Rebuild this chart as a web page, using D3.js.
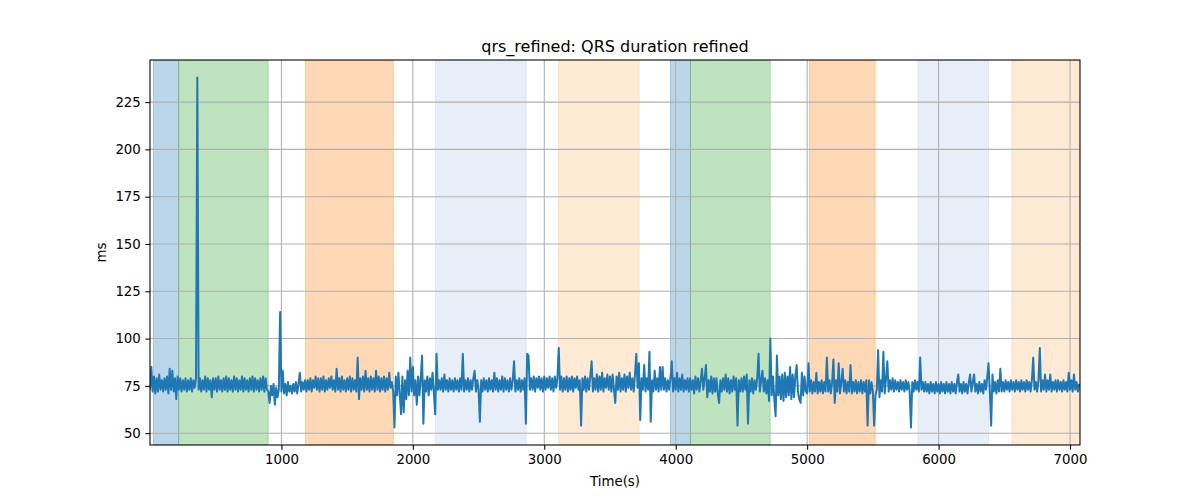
<!DOCTYPE html>
<html>
<head>
<meta charset="utf-8">
<script src="https://cdn.jsdelivr.net/npm/d3@7/dist/d3.min.js"></script>
<style>
  body { margin: 0; background: #fff; }
  svg { display: block; font-family: "DejaVu Sans", sans-serif; }
</style>
</head>
<body>
<svg id="chart" width="1200" height="500"></svg>
<script>
// ---- data ----
const title = "qrs_refined: QRS duration refined";
const xLabel = "Time(s)";
const yLabel = "ms";
const sampleStep = 10; // seconds between samples
const xLimits = [0, 7076];
const xTicks = [1000, 2000, 3000, 4000, 5000, 6000, 7000];
const yTicks = [50, 75, 100, 125, 150, 175, 200, 225];

// shaded intervals [start, end] in seconds, with their colours
const spanStarts = [26, 218, 1183, 2172, 3108, 3960, 4112, 5018, 5843, 6558];
const spanEnds   = [218, 899, 1852, 2862, 3722, 4112, 4719, 5518, 6380, 7076];
const spanColors = ["#1f77b4", "#2ca02c", "#ff7f0e", "#aec7e8", "#ffbb78",
                    "#1f77b4", "#2ca02c", "#ff7f0e", "#aec7e8", "#ffbb78"];

// QRS duration (ms), one value every 10 s
const qrsValues = [
  73,85,72,80,71,79,72,81,73,78,
  72,79,73,80,71,84,73,83,72,79,
  68,80,73,79,72,78,73,79,72,78,
  73,79,72,78,74,79,238,73,79,72,
  78,73,80,72,79,73,78,69,79,73,
  79,72,80,73,78,72,79,73,80,72,
  79,73,78,72,80,73,79,72,78,73,
  80,72,79,73,78,72,79,73,80,72,
  79,73,78,72,79,73,80,72,79,73,
  72,66,75,70,76,65,74,69,73,114,
  72,83,71,76,70,77,72,75,71,76,
  72,77,71,76,82,72,77,73,78,72,
  78,73,79,72,78,74,80,73,79,72,
  79,73,80,72,78,73,79,74,80,73,
  78,72,84,73,79,72,80,73,78,72,
  79,73,80,72,79,73,78,72,90,68,
  79,73,80,72,83,73,79,72,80,73,
  79,72,83,73,80,72,79,73,80,72,
  79,73,82,74,77,72,53,80,70,82,
  71,60,80,61,78,68,83,70,90,72,
  85,70,78,65,80,70,79,91,55,78,
  72,80,70,79,73,82,71,60,92,73,
  78,73,79,72,81,73,78,72,79,73,
  78,72,79,73,78,72,79,73,92,72,
  78,73,79,72,78,73,79,83,72,78,
  73,56,78,72,79,73,78,72,79,73,
  78,72,82,73,79,72,78,73,80,72,
  79,73,78,72,79,73,78,88,72,78,
  73,79,72,78,73,79,55,92,91,73,
  79,73,80,72,79,74,80,73,79,72,
  80,73,79,74,80,73,79,72,80,74,
  79,95,73,80,72,79,73,80,72,79,
  73,80,72,79,74,80,73,78,54,79,
  73,80,72,79,73,80,88,72,79,73,
  81,72,80,73,82,72,79,74,81,73,
  80,72,81,73,66,80,73,82,72,79,
  73,81,72,80,74,82,73,79,72,81,
  92,74,87,57,79,73,86,72,79,73,
  93,56,78,72,83,73,79,72,85,73,
  85,73,79,72,78,73,79,88,72,79,
  73,82,72,79,73,81,72,78,73,79,
  72,79,73,78,71,80,73,79,72,78,
  84,73,79,86,69,78,72,80,71,79,
  72,79,71,66,78,72,79,73,81,72,
  79,71,78,72,80,73,79,54,78,72,
  79,72,80,73,81,55,78,72,79,71,
  78,73,79,92,72,78,83,72,79,71,
  78,67,100,70,80,68,59,91,70,80,
  68,81,67,82,69,80,70,85,68,81,
  69,80,86,72,68,66,82,70,80,72,
  71,87,72,78,71,77,72,82,71,77,
  72,78,71,77,72,90,72,78,71,77,
  89,66,78,72,87,71,77,84,72,78,
  71,77,72,86,71,77,72,78,71,77,
  72,78,71,77,72,78,54,78,71,77,
  72,54,70,73,94,69,78,72,93,71,
  79,88,72,78,73,79,72,78,73,77,
  72,78,73,77,72,78,73,77,72,53,
  77,72,78,73,77,72,90,73,77,72,
  77,72,76,71,77,72,76,71,77,72,
  76,71,77,72,76,71,77,72,76,71,
  77,72,76,71,77,81,72,76,71,77,
  72,76,71,77,81,72,77,81,72,76,
  71,77,72,76,71,78,73,79,87,72,
  54,81,72,77,71,78,72,84,72,77,
  72,78,73,77,72,78,73,77,72,78,
  73,77,72,78,73,77,72,78,73,77,
  72,78,90,73,77,72,78,95,72,78,
  73,81,72,78,73,81,72,77,73,78,
  72,78,73,77,72,78,73,77,72,82,
  73,78,72,81,73,77,72,76
];
const qrsTimes = qrsValues.map((_, i) => i * sampleStep);

// ---- layout ----
const W = 1200, H = 500;
const margin = { left: 150, right: 120, top: 60, bottom: 55 };
const innerW = W - margin.left - margin.right;
const innerH = H - margin.top - margin.bottom;

const svg = d3.select("#chart");
const g = svg.append("g").attr("transform", `translate(${margin.left},${margin.top})`);

const x = d3.scaleLinear().domain(xLimits).range([0, innerW]);
const [vmin, vmax] = d3.extent(qrsValues);
const pad = (vmax - vmin) * 0.05;
const y = d3.scaleLinear().domain([vmin - pad, vmax + pad]).range([innerH, 0]);

const clipId = "plot-clip";
svg.append("defs").append("clipPath").attr("id", clipId)
  .append("rect").attr("width", innerW).attr("height", innerH);

// spans
const spans = spanStarts.map((s, i) => ({ s, e: spanEnds[i], c: spanColors[i] }));
g.append("g").attr("clip-path", `url(#${clipId})`)
  .selectAll("rect").data(spans).join("rect")
  .attr("x", d => x(d.s))
  .attr("width", d => x(d.e) - x(d.s))
  .attr("y", 0).attr("height", innerH)
  .attr("fill", d => d.c).attr("fill-opacity", 0.3)
  .attr("stroke", d => d.c).attr("stroke-opacity", 0.3).attr("stroke-width", 1);

// grid
const grid = g.append("g");
grid.selectAll(".gx").data(xTicks).join("line")
  .attr("x1", d => x(d)).attr("x2", d => x(d))
  .attr("y1", 0).attr("y2", innerH)
  .attr("stroke", "#b0b0b0").attr("stroke-width", 1.07);
grid.selectAll(".gy").data(yTicks).join("line")
  .attr("x1", 0).attr("x2", innerW)
  .attr("y1", d => y(d)).attr("y2", d => y(d))
  .attr("stroke", "#b0b0b0").attr("stroke-width", 1.07);

// line
const line = d3.line().x((d, i) => x(qrsTimes[i])).y(d => y(d));
g.append("path").datum(qrsValues)
  .attr("clip-path", `url(#${clipId})`)
  .attr("fill", "none").attr("stroke", "#1f77b4")
  .attr("stroke-width", 2).attr("stroke-linejoin", "round")
  .attr("d", line);

// axes
const xAxis = d3.axisBottom(x).tickValues(xTicks).tickSize(4.67).tickPadding(4.5).tickFormat(d3.format("d"));
const yAxis = d3.axisLeft(y).tickValues(yTicks).tickSize(4.67).tickPadding(4.5).tickFormat(d3.format("d"));
const gx = g.append("g").attr("transform", `translate(0,${innerH})`).call(xAxis);
const gy = g.append("g").call(yAxis);
[gx, gy].forEach(a => {
  a.select(".domain").remove();
  a.selectAll(".tick line").attr("stroke", "#000").attr("stroke-width", 1.07);
  a.selectAll(".tick text").attr("fill", "#000").style("font-size", "13.33px")
    .style("font-family", "'DejaVu Sans', sans-serif");
});

// spines
g.append("rect").attr("width", innerW).attr("height", innerH)
  .attr("fill", "none").attr("stroke", "#000").attr("stroke-width", 1.07);

// labels
svg.append("text").attr("x", margin.left + innerW / 2).attr("y", margin.top - 8)
  .attr("text-anchor", "middle").style("font-size", "16px").attr("fill", "#000").text(title);
svg.append("text").attr("x", margin.left + innerW / 2).attr("y", 486)
  .attr("text-anchor", "middle").style("font-size", "13.33px").attr("fill", "#000").text(xLabel);
svg.append("text").attr("transform", `translate(106,${margin.top + innerH / 2}) rotate(-90)`)
  .attr("text-anchor", "middle").style("font-size", "13.33px").attr("fill", "#000").text(yLabel);
</script>
</body>
</html>
